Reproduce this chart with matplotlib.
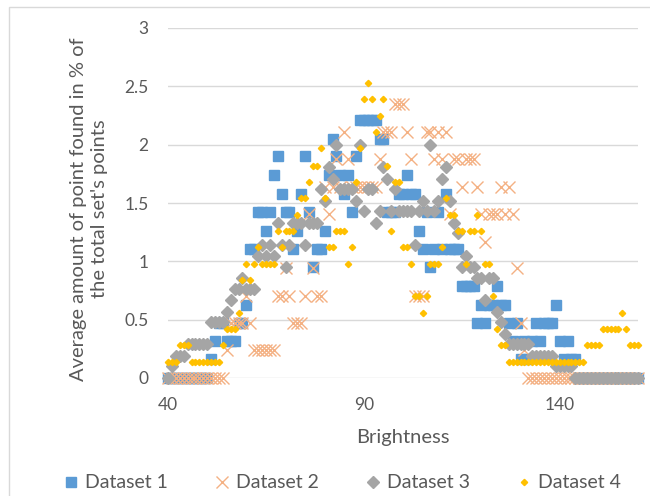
# plot.py
#
# Scatter of the four datasets vs. brightness (Excel style chart)

import matplotlib
matplotlib.use("Agg")
import matplotlib.pyplot as plt
from matplotlib.patches import Rectangle

plt.rcParams['font.family'] = ['Lato', 'DejaVu Sans']

# Brightness values 40 .. 160
brightness = list(range(40, 161))

# Values, one row per 10 brightness steps
dataset1 = [
    0, 0, 0, 0, 0, 0, 0, 0, 0, 0,                                   # 40
    0, 0.16, 0.32, 0.47, 0.47, 0.32, 0.32, 0.32, 0.47, 0.47,        # 50
    0.63, 1.11, 1.11, 1.42, 1.42, 1.26, 1.42, 1.74, 1.9, 1.58,      # 60
    1.42, 1.42, 1.11, 1.26, 1.58, 1.9, 1.42, 0.95, 1.11, 1.11,      # 70
    1.26, 1.74, 2.05, 1.9, 1.74, 1.58, 1.74, 1.42, 1.9, 2.21,       # 80
    2.21, 2.21, 2.21, 2.21, 2.05, 2.05, 1.42, 1.42, 1.42, 1.58,     # 90
    1.58, 1.74, 1.58, 1.58, 1.26, 1.11, 1.42, 0.95, 1.11, 1.42,     # 100
    1.11, 1.58, 1.11, 1.11, 1.11, 0.79, 0.79, 0.79, 0.79, 0.47,     # 110
    0.63, 0.47, 0.63, 0.63, 0.79, 0.63, 0.63, 0.47, 0.32, 0.47,     # 120
    0.16, 0.32, 0.16, 0.32, 0.47, 0.32, 0.47, 0.47, 0.47, 0.63,     # 130
    0.32, 0.16, 0.32, 0.16, 0.16, 0, 0, 0, 0, 0,                    # 140
    0, 0, 0, 0, 0, 0, 0, 0, 0, 0,                                   # 150
    0,                                                              # 160
]

dataset2 = [
    0, 0, 0, 0, 0, 0, 0, 0, 0, 0,                                   # 40
    0, 0, 0, 0, 0, 0.24, 0.47, 0.47, 0.47, 0.47,                    # 50
    0.7, 0.47, 0.24, 0.24, 0.24, 0.24, 0.24, 0.24, 0.7, 0.7,        # 60
    0.94, 0.7, 0.47, 0.47, 0.47, 0.7, 1.41, 0.94, 0.7, 0.7,         # 70
    1.64, 1.41, 1.64, 1.88, 1.64, 2.11, 1.88, 1.64, 1.64, 1.64,     # 80
    1.64, 1.64, 1.64, 1.64, 1.88, 2.11, 2.11, 2.11, 2.35, 2.35,     # 90
    2.35, 2.11, 1.88, 0.7, 0.7, 0.7, 2.11, 2.11, 1.88, 2.11,        # 100
    1.88, 2.11, 1.41, 1.88, 1.88, 1.64, 1.88, 1.88, 1.88, 1.64,     # 110
    1.41, 1.17, 1.41, 1.41, 1.41, 1.64, 1.41, 1.64, 1.41, 0.94,     # 120
    0.47, 0.24, 0, 0, 0, 0, 0, 0, 0, 0,                             # 130
    0, 0, 0, 0, 0, 0, 0, 0, 0, 0,                                   # 140
    0, 0, 0, 0, 0, 0, 0, 0, 0, 0,                                   # 150
    0,                                                              # 160
]

dataset3 = [
    0, 0.1, 0.19, 0.19, 0.19, 0.29, 0.29, 0.29, 0.29, 0.29,         # 40
    0.29, 0.48, 0.48, 0.48, 0.48, 0.57, 0.67, 0.76, 0.76, 0.86,     # 50
    0.76, 0.76, 0.76, 1.05, 1.14, 1.05, 1.14, 1.05, 1.33, 1.14,     # 60
    0.95, 1.14, 1.33, 1.33, 1.33, 1.14, 1.33, 1.33, 1.33, 1.62,     # 70
    1.52, 1.81, 1.71, 2.0, 1.62, 1.62, 1.62, 1.62, 1.52, 2.0,       # 80
    1.43, 1.62, 1.62, 1.33, 1.43, 1.81, 1.71, 1.43, 1.62, 1.43,     # 90
    1.43, 1.43, 1.43, 1.14, 1.43, 1.52, 1.43, 2.0, 1.43, 1.52,      # 100
    1.71, 1.81, 1.52, 1.33, 1.24, 0.95, 1.05, 0.95, 0.95, 0.86,     # 110
    0.86, 0.67, 0.86, 0.86, 0.57, 0.48, 0.38, 0.29, 0.29, 0.29,     # 120
    0.29, 0.29, 0.29, 0.19, 0.19, 0.19, 0.19, 0.19, 0.19, 0.1,      # 130
    0.1, 0.1, 0.1, 0.1, 0, 0, 0, 0, 0, 0,                           # 140
    0, 0, 0, 0, 0, 0, 0, 0, 0, 0,                                   # 150
    0,                                                              # 160
]

dataset4 = [
    0.14, 0.14, 0.14, 0.28, 0.28, 0.28, 0.14, 0.14, 0.14, 0.14,     # 40
    0.14, 0.14, 0.14, 0.14, 0.28, 0.42, 0.42, 0.42, 0.56, 0.84,     # 50
    0.98, 0.84, 0.98, 1.12, 0.98, 0.98, 0.98, 0.98, 1.26, 1.12,     # 60
    1.26, 1.26, 1.26, 1.4, 1.54, 1.54, 1.68, 1.82, 1.82, 1.97,      # 70
    1.54, 1.12, 1.12, 1.26, 1.26, 1.26, 0.98, 1.12, 1.68, 1.97,     # 80
    2.39, 2.53, 2.39, 2.11, 2.25, 2.39, 1.82, 1.26, 1.68, 1.68,     # 90
    1.12, 1.12, 0.98, 0.7, 0.7, 0.56, 0.7, 0.98, 0.98, 0.98,        # 100
    1.12, 1.54, 1.4, 1.4, 1.26, 1.26, 0.98, 1.26, 1.26, 1.4,        # 110
    1.26, 0.98, 0.98, 0.7, 0.42, 0.28, 0.28, 0.14, 0.14, 0.14,      # 120
    0.14, 0.14, 0.14, 0.14, 0.14, 0.14, 0.14, 0.14, 0.14, 0.14,     # 130
    0.14, 0.14, 0.14, 0.14, 0.14, 0.14, 0.14, 0.28, 0.28, 0.28,     # 140
    0.28, 0.42, 0.42, 0.42, 0.42, 0.42, 0.56, 0.42, 0.28, 0.28,     # 150
    0.28,                                                           # 160
]

x_ticks = [40, 90, 140]
y_ticks = [0, 0.5, 1, 1.5, 2, 2.5, 3]
y_tick_labels = ["0", "0.5", "1", "1.5", "2", "2.5", "3"]

text_color = '#595959'
grid_color = '#D9D9D9'

fig = plt.figure(figsize=(6.5, 4.96), dpi=100)
ax = fig.add_axes([168 / 650, 1 - 378 / 496, 470 / 650, 350 / 496])

# Series (drawn in this order, dataset 4 ends up on top)
ax.plot(brightness, dataset1, linestyle='none', marker='s', ms=7,
        color='#5B9BD5', label='Dataset 1', clip_on=False)
ax.plot(brightness, dataset2, linestyle='none', marker='x', ms=8.5, mew=1.0,
        color='#F4B183', label='Dataset 2', clip_on=False)
ax.plot(brightness, dataset3, linestyle='none', marker='D', ms=6,
        color='#A5A5A5', label='Dataset 3', clip_on=False)
ax.plot(brightness, dataset4, linestyle='none', marker='D', ms=3.2,
        color='#FFC000', label='Dataset 4', clip_on=False)

# Axes formatting
ax.set_xlim(40, 160)
ax.set_ylim(0, 3)
ax.set_xticks(x_ticks)
ax.set_yticks(y_ticks)
ax.set_yticklabels(y_tick_labels)
ax.yaxis.grid(True, color=grid_color, lw=1.0)
ax.set_axisbelow(True)
for spine in ax.spines.values():
    spine.set_visible(False)
ax.tick_params(axis='both', length=0, colors=text_color, labelsize=12.5)
ax.tick_params(axis='y', pad=14)
ax.tick_params(axis='x', pad=14)

# Axis titles
fig.text(89 / 650, 1 - 209 / 496,
         "Average amount of point found in % of\nthe total set's points",
         rotation=90, ha='center', va='center', multialignment='center',
         fontsize=14.5, color=text_color, linespacing=1.35)
fig.text(403 / 650, 1 - 438 / 496, "Brightness", ha='center', va='center',
         fontsize=14.5, color=text_color)

# Legend along the bottom
fig.legend(loc='center', bbox_to_anchor=(343 / 650, 1 - 483 / 496), ncol=4,
           frameon=False, fontsize=14, handlelength=0.6, handletextpad=0.4,
           columnspacing=2.5, labelcolor=text_color)

# Chart area border
fig.add_artist(Rectangle((9 / 650, -0.1), 2, 1 - 7 / 496 + 0.1,
                         transform=fig.transFigure, fill=False,
                         edgecolor=grid_color, lw=1.0))

fig.savefig('out.png', dpi=100)
